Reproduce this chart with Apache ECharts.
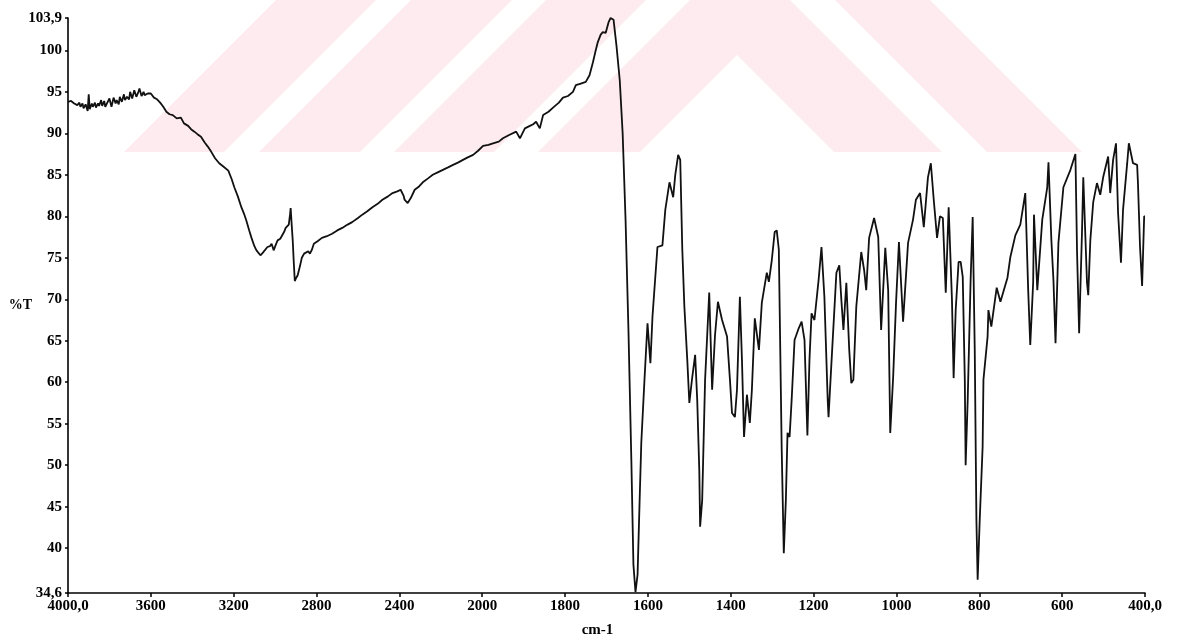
<!DOCTYPE html>
<html>
<head>
<meta charset="utf-8">
<script src="https://cdn.jsdelivr.net/npm/echarts@6/dist/echarts.min.js"></script>
<style>
    html, body { margin: 0; padding: 0; background: #fff; }
    #chart { width: 1178px; height: 639px; }
</style>
</head>
<body>
<div id="chart"></div>
<script>
// IR spectrum, wavenumber (cm-1) vs %T
const wavenumbers = [
    4000, 3985, 3970, 3955, 3945, 3940, 3930, 3925, 3915, 3910, 3905, 3900, 3895, 3885, 3880, 3870,
    3865, 3855, 3850, 3840, 3835, 3825, 3820, 3810, 3800, 3790, 3780, 3770, 3765, 3755, 3750, 3740,
    3730, 3725, 3715, 3705, 3700, 3690, 3680, 3670, 3660, 3655, 3645, 3635, 3630, 3615,
    3600, 3585, 3570, 3555, 3540, 3525, 3510, 3494, 3475, 3455, 3440, 3420, 3406, 3390, 3375, 3358,
    3340, 3325, 3309, 3290, 3270, 3250, 3226, 3210, 3197, 3180, 3163, 3150, 3139, 3125, 3114, 3100,
    3090, 3071, 3060, 3051, 3037, 3025, 3017, 3007, 2998, 2988, 2975, 2968, 2955, 2949, 2934, 2928,
    2925, 2920, 2915, 2910, 2905, 2898, 2891, 2880, 2871, 2860, 2852, 2840, 2832, 2822, 2813, 2795,
    2774, 2750, 2725, 2700, 2676, 2650, 2628, 2600, 2579, 2555, 2530, 2505, 2482, 2455, 2433, 2410,
    2394, 2380, 2375, 2360, 2345, 2326, 2305, 2287, 2260, 2239, 2215, 2190, 2165, 2141, 2115, 2093,
    2070, 2044, 2020, 1998, 1985, 1974, 1960, 1950, 1935, 1918, 1909, 1897, 1885, 1877, 1870, 1861,
    1853, 1840, 1829, 1815, 1805, 1793, 1781, 1774, 1762, 1750, 1741, 1733, 1727, 1721, 1714, 1709,
    1702, 1695, 1690, 1683, 1676, 1668, 1661, 1654, 1647, 1640, 1635, 1630, 1625, 1620, 1616, 1608,
    1601, 1594, 1589, 1577, 1565, 1558, 1548, 1539, 1534, 1527, 1522, 1517, 1512, 1505, 1500, 1493,
    1486, 1481, 1476, 1474, 1469, 1462, 1452, 1445, 1438, 1431, 1421, 1409, 1402, 1397, 1390, 1385,
    1378, 1373, 1368, 1361, 1354, 1349, 1342, 1332, 1325, 1313, 1308, 1301, 1294, 1289, 1284, 1277,
    1272, 1267, 1263, 1258, 1253, 1246, 1236, 1229, 1222, 1215, 1210, 1205, 1198, 1188, 1181, 1174,
    1166, 1164, 1157, 1145, 1138, 1133, 1128, 1121, 1114, 1109, 1104, 1097, 1085, 1078, 1073, 1066,
    1054, 1044, 1037, 1027, 1020, 1015, 1008, 1001, 994, 984, 972, 960, 953, 943, 934, 924,
    917, 910, 902, 895, 888, 881, 874, 866, 862, 857, 850, 845, 840, 835, 833, 828,
    821, 816, 811, 807, 804, 799, 792, 790, 780, 778, 771, 758, 749, 732, 725, 713,
    701, 689, 682, 677, 670, 668, 660, 648, 636, 633, 626, 621, 616, 609, 597, 580,
    568, 564, 559, 552, 549, 540, 537, 532, 525, 516, 508, 501, 489, 484, 477, 470,
    465, 458, 453, 443, 439, 429, 419, 417, 412, 407, 402, 400
];
const transmittance = [
    93.8, 93.9, 93.6, 93.4, 93.7, 93.2, 93.6, 93.0, 93.5, 93.1, 92.7, 94.7, 92.9, 93.6, 93.2, 93.7,
    93.1, 93.6, 93.3, 94.0, 93.3, 93.9, 93.2, 93.7, 94.2, 93.2, 94.3, 93.6, 94.0, 93.5, 94.4, 93.8,
    94.7, 94.0, 94.4, 94.1, 95.0, 94.2, 95.2, 94.4, 95.0, 95.4, 94.5, 95.0, 94.6, 94.8,
    94.8, 94.3, 94.1, 93.7, 93.2, 92.6, 92.3, 92.2, 91.8, 91.9, 91.2, 90.9, 90.5, 90.2, 89.9, 89.6,
    88.9, 88.4, 87.8, 87.0, 86.4, 86.0, 85.5, 84.5, 83.5, 82.4, 81.1, 80.3, 79.5, 78.3, 77.4, 76.4,
    75.9, 75.3, 75.6, 75.7, 76.3, 76.4, 76.7, 75.9, 76.5, 77.1, 77.3, 77.4, 78.2, 78.6, 79.0, 80.2,
    81.0, 79.0, 77.1, 74.5, 72.2, 72.6, 72.9, 74.0, 75.0, 75.5, 75.7, 75.8, 75.5, 76.0, 76.7, 77.0,
    77.4, 77.6, 77.9, 78.3, 78.6, 79.0, 79.3, 79.8, 80.2, 80.6, 81.1, 81.5, 82.0, 82.4, 82.8, 83.0,
    83.2, 82.5, 82.0, 81.6, 82.2, 83.2, 83.6, 84.1, 84.6, 85.0, 85.3, 85.6, 85.9, 86.2, 86.5, 86.8,
    87.1, 87.4, 87.9, 88.5, 88.6, 88.8, 89.0, 89.4, 89.8, 90.2, 89.4, 90.6, 90.9, 91.1, 91.4, 90.6,
    92.2, 92.6, 93.1, 93.7, 94.3, 94.5, 95.0, 95.8, 96.0, 96.2, 97.0, 98.5, 99.8, 101.0, 101.9, 102.2,
    102.1, 103.4, 103.9, 103.7, 100.6, 96.4, 90.0, 79.6, 66.3, 50.6, 38.0, 34.7, 36.8, 45.8, 52.7, 60.6,
    67.1, 62.3, 67.9, 76.3, 76.5, 80.8, 84.1, 82.3, 85.0, 87.4, 86.8, 76.0, 69.1, 62.7, 57.5, 60.6,
    63.3, 57.9, 49.4, 42.6, 45.8, 60.3, 70.8, 59.1, 65.7, 69.7, 67.5, 65.5, 60.3, 56.3, 55.8, 59.1,
    70.3, 62.7, 53.4, 58.5, 55.1, 59.1, 67.7, 63.9, 69.6, 73.2, 72.1, 74.7, 78.1, 78.3, 76.0, 51.8,
    39.4, 45.8, 53.9, 53.4, 57.9, 65.1, 66.5, 67.3, 65.1, 53.6, 62.7, 68.3, 67.5, 72.3, 76.3, 70.3,
    57.9, 55.8, 62.3, 73.2, 74.1, 69.9, 66.3, 72.0, 63.9, 59.9, 60.3, 69.1, 75.7, 73.5, 71.1, 77.4,
    79.8, 77.5, 66.3, 76.2, 71.1, 53.9, 60.6, 69.6, 76.9, 67.3, 76.8, 79.6, 82.0, 82.8, 78.7, 84.7,
    86.4, 82.0, 77.4, 80.0, 79.8, 70.8, 81.1, 69.9, 60.5, 68.7, 74.5, 74.5, 72.7, 60.3, 50.0, 57.9,
    72.3, 79.9, 63.9, 43.4, 36.2, 43.4, 52.2, 60.3, 65.5, 68.7, 66.7, 71.4, 69.7, 72.6, 75.1, 77.7,
    79.0, 82.8, 71.1, 64.5, 72.0, 80.2, 71.1, 79.6, 83.5, 86.5, 77.1, 72.3, 64.7, 76.8, 83.5, 85.6,
    87.5, 75.6, 65.9, 78.3, 84.7, 72.0, 70.5, 77.1, 81.7, 84.0, 82.6, 84.7, 87.2, 82.8, 86.8, 88.8,
    80.4, 74.4, 80.8, 86.4, 88.8, 86.4, 86.2, 84.0, 76.3, 71.6, 80.0, 80.0
];
const yTicks = [34.6, 40, 45, 50, 55, 60, 65, 70, 75, 80, 85, 90, 95, 100, 103.9];

// the spectrometer halves the scale above 2000 cm-1
const toAxis = (w) => (w <= 2000 ? w : 2000 + (w - 2000) / 2);
const fromAxis = (t) => (t <= 2000 ? t : 2000 + (t - 2000) * 2);

const points = wavenumbers.map((w, i) => [toAxis(w), transmittance[i]]);

const labelFont = {
    fontFamily: "Liberation Serif",
    fontWeight: "bold",
    fontSize: 15,
    color: "#000",
};
const pink = "#fdebef";

const chart = echarts.init(document.getElementById("chart"), null, { renderer: "canvas" });
chart.setOption({
    animation: false,
    backgroundColor: "#fff",
    grid: { left: 68, right: 33, top: 18, bottom: 46, containLabel: false, outerBoundsMode: "none" },
    graphic: {
        elements: [
            { type: "polygon", silent: true, shape: { points: [[276, 0], [376, 0], [224, 152], [124, 152]] }, style: { fill: pink } },
            { type: "polygon", silent: true, shape: { points: [[411, 0], [512, 0], [360, 152], [259, 152]] }, style: { fill: pink } },
            { type: "polygon", silent: true, shape: { points: [[546, 0], [646, 0], [494, 152], [394, 152]] }, style: { fill: pink } },
            {
                type: "polygon",
                silent: true,
                shape: { points: [[690, 0], [790, 0], [942, 152], [834, 152], [737, 55], [640, 152], [538, 152]] },
                style: { fill: pink },
            },
            { type: "polygon", silent: true, shape: { points: [[835, 0], [930, 0], [1082, 152], [987, 152]] }, style: { fill: pink } },
        ],
    },
    xAxis: {
        type: "value",
        inverse: true,
        min: 400,
        max: 3000,
        interval: 200,
        name: "cm-1",
        nameLocation: "middle",
        nameGap: 30,
        nameMoveOverlap: false,
        nameTextStyle: { ...labelFont, padding: [0, 18, 0, 0] },
        axisLine: { onZero: false, lineStyle: { color: "#000", width: 1.6 } },
        axisTick: { show: true, length: 4, lineStyle: { color: "#000", width: 1.5 } },
        axisLabel: {
            ...labelFont,
            margin: 6,
            formatter: (t) => {
                const w = fromAxis(t);
                return w === 4000 || w === 400 ? w + ",0" : String(w);
            },
        },
        splitLine: { show: false },
    },
    yAxis: {
        type: "value",
        min: 34.6,
        max: 103.9,
        name: "%T",
        nameLocation: "middle",
        nameRotate: 0,
        nameGap: 36,
        nameMoveOverlap: false,
        nameTextStyle: { ...labelFont, fontSize: 14 },
        axisLine: { show: true, lineStyle: { color: "#000", width: 1.6 } },
        axisTick: { show: true, length: 3, customValues: yTicks, lineStyle: { color: "#000", width: 1.5 } },
        axisLabel: {
            ...labelFont,
            margin: 6,
            customValues: yTicks,
            formatter: (v) => String(v).replace(".", ","),
        },
        splitLine: { show: false },
    },
    series: [
        {
            type: "line",
            data: points,
            symbol: "none",
            z: 5,
            lineStyle: { color: "#111", width: 1.8 },
        },
    ],
});
</script>
</body>
</html>
